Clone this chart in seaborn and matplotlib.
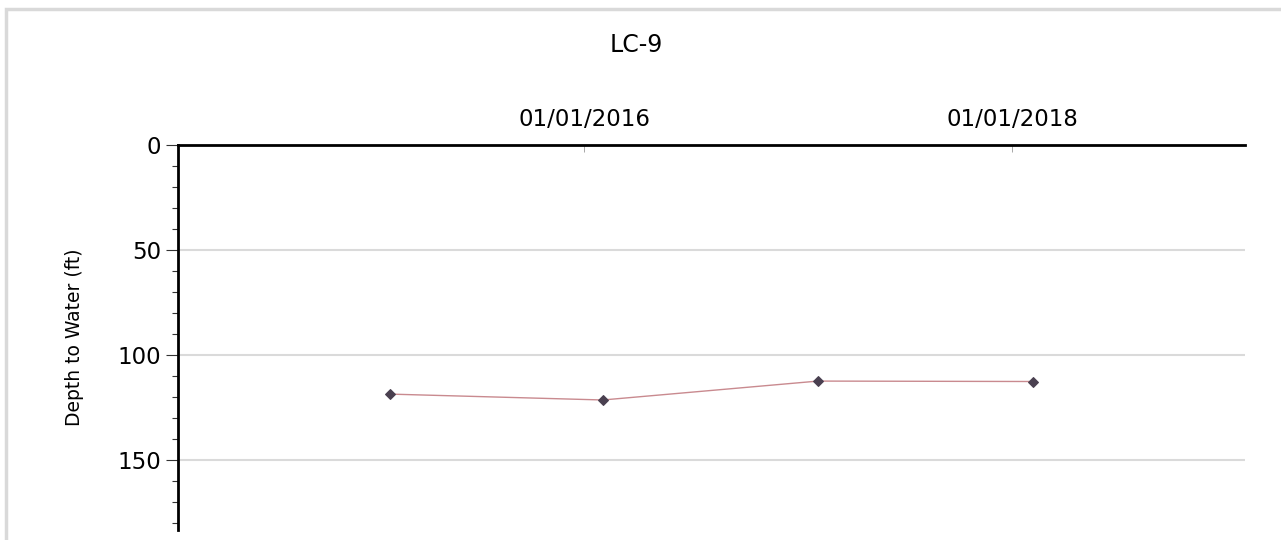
import matplotlib
matplotlib.use("Agg")
import matplotlib.pyplot as plt
import matplotlib.dates as mdates
from matplotlib.patches import Rectangle
from matplotlib.ticker import MultipleLocator, FixedLocator
import seaborn as sns
import pandas as pd
import numpy as np

title = "LC-9"
ylabel = "Depth to Water (ft)"
dates = ["2015-02-04", "2016-02-02", "2017-02-03", "2018-02-05"]
depths = [118.6, 121.4, 112.4, 112.6]
xtick_dates = ["2016-01-01", "2018-01-01"]
ytick_values = [0, 50, 100, 150]

df = pd.DataFrame({"date": pd.to_datetime(dates), "depth": depths})

sns.set_style("white")
plt.rcParams["font.family"] = ["DejaVu Sans"]
plt.rcParams["text.color"] = "black"
plt.rcParams["axes.labelcolor"] = "black"
plt.rcParams["xtick.labelcolor"] = "black"
plt.rcParams["ytick.labelcolor"] = "black"

fig = plt.figure(figsize=(12.81, 5.4), dpi=100)
ax = fig.add_axes([178 / 1281, 10 / 540, (1245 - 178) / 1281, (530 - 145) / 540])

sns.lineplot(data=df, x="date", y="depth", ax=ax, color="#c98a8f", linewidth=1.0,
             marker="D", markersize=5.5, markerfacecolor="#4a4050",
             markeredgecolor="#4a4050", zorder=3)

ax.set_xlim(pd.Timestamp("2014-02-07"), pd.Timestamp("2019-02-02"))
ax.set_ylim(183.3, 0)

# grid
for v in ytick_values[1:]:
    ax.axhline(v, color="#dadada", linewidth=1.5, zorder=1)

ax.xaxis.tick_top()
ax.xaxis.set_label_position("top")
ax.xaxis.set_major_locator(FixedLocator([mdates.date2num(pd.Timestamp(d)) for d in xtick_dates]))
ax.xaxis.set_major_formatter(mdates.DateFormatter("%m/%d/%Y"))
ax.tick_params(axis="x", which="major", direction="in", length=5, width=0.6,
               color="#999999", labelsize=16.5, labelcolor="black", pad=10, top=True, bottom=False)

ax.yaxis.set_major_locator(FixedLocator(ytick_values))
ax.yaxis.set_minor_locator(MultipleLocator(10))
ax.tick_params(axis="y", which="major", direction="out", length=9, width=0.8,
               color="#333333", labelsize=16.5, labelcolor="black", pad=3, left=True)
ax.tick_params(axis="y", which="minor", direction="out", length=4, width=0.8,
               color="#333333", left=True)

ax.set_xlabel("")
ax.set_ylabel(ylabel, fontsize=13.5, color="black")
ax.yaxis.set_label_coords(-(178 - 75) / 1067, 0.5)
ax.yaxis.label.set_va("center")

for s in ["right", "bottom"]:
    ax.spines[s].set_visible(False)
for s in ["top", "left"]:
    ax.spines[s].set_color("black")
    ax.spines[s].set_linewidth(2)

fig.text(636 / 1281, 1 - 45 / 540, title, ha="center", va="center", fontsize=17, color="black")

fig.patches.append(Rectangle((6 / 1281, -0.5), 2, 0.5 + 1 - 9 / 540, transform=fig.transFigure,
                             fill=False, edgecolor="#d9d9d9", linewidth=2.5, zorder=0))

fig.savefig("out.png", dpi=100)
